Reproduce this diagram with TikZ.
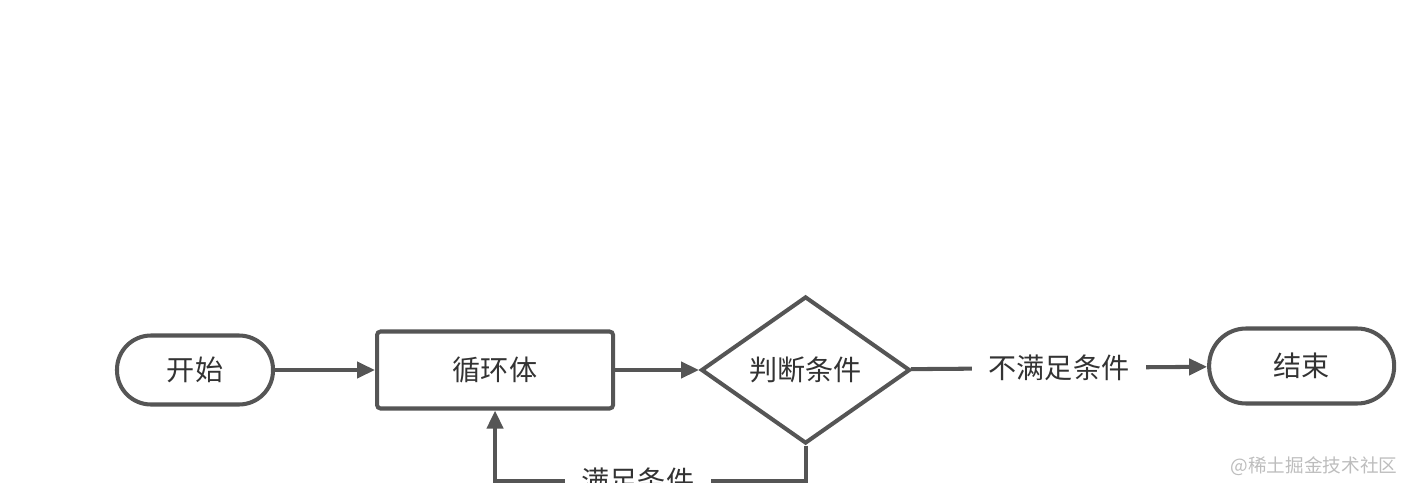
\documentclass[tikz,border=0pt]{standalone}
\usepackage{fontspec}
\newfontfamily\cjk{Noto Sans CJK SC}
\usetikzlibrary{shapes.geometric, arrows.meta, positioning}
\definecolor{linegray}{HTML}{555555}
\definecolor{textgray}{HTML}{333333}
\definecolor{markgray}{HTML}{BDBDBD}

\tikzset{
  box/.style={draw=linegray, line width=1.15pt, text=textgray, font=\cjk\fontsize{8pt}{10pt}\selectfont},
  terminal/.style={box, rounded corners=0.34cm, minimum height=0.69cm, minimum width=1.56cm},
  process/.style={box, rounded corners=1pt, minimum height=0.77cm, minimum width=2.36cm},
  decision/.style={box, diamond, aspect=1.42, inner sep=0pt, minimum width=2.09cm, minimum height=1.47cm},
  flow/.style={draw=linegray, line width=1.15pt, -{Triangle[length=0.18cm, width=0.16cm]}},
  cond/.style={fill=white, text=textgray, inner xsep=0.17cm, font=\cjk\fontsize{8pt}{10pt}\selectfont},
  watermark/.style={text=markgray, inner sep=0pt, font=\cjk\fontsize{5.3pt}{7pt}\selectfont}
}

\begin{document}
\begin{tikzpicture}[node distance=1cm]
    \useasboundingbox (0,0) rectangle (14.04,4.82);

    % Steps
    \node[terminal] (start) at (1.95,1.12) {开始};
    \node[process, right=1.0cm of start] (loop) {循环体};
    \node[decision, right=0.84cm of loop] (judge) {判断条件};
    \node[terminal, minimum width=1.85cm, minimum height=0.75cm, rounded corners=0.37cm, right=2.95cm of judge, yshift=0.04cm] (stop) {结束};

    % Flow
    \draw[flow] (start) -- (loop);
    \draw[flow] (loop) -- (judge);
    \draw[flow] (judge) -- node[cond] {不满足条件} (stop);
    \draw[flow] (judge.south) -- ++(0,-0.35) -| node[cond, pos=0.27] {满足条件} (loop.south);

    % Watermark
    \node[watermark, anchor=east] (mark) at (13.98,0.16) {@稀土掘金技术社区};
\end{tikzpicture}
\end{document}
